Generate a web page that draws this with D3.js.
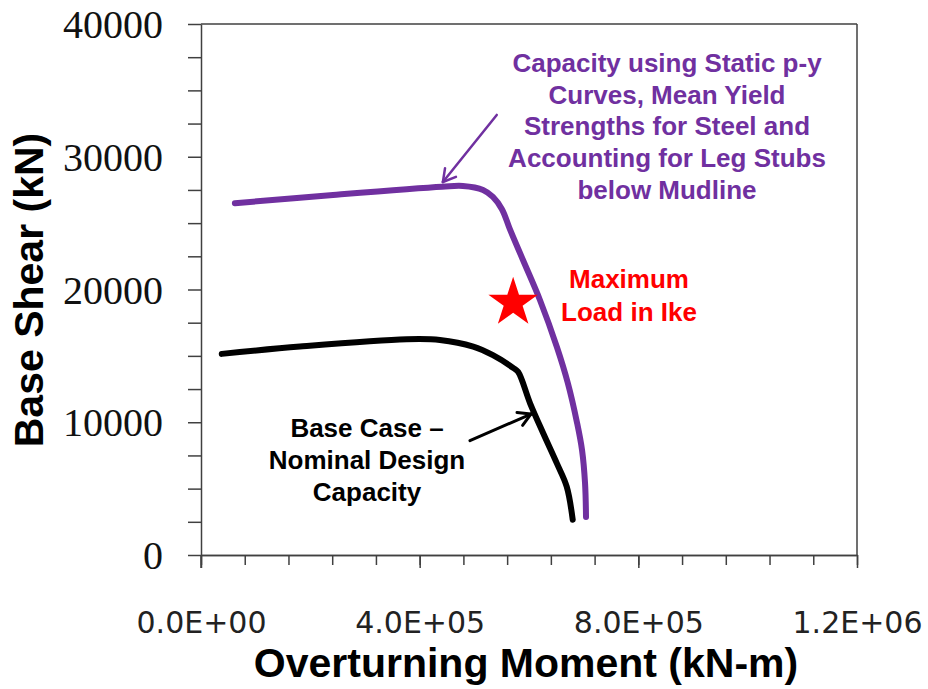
<!DOCTYPE html>
<html>
<head>
<meta charset="utf-8">
<script src="https://cdn.jsdelivr.net/npm/d3@7"></script>
<style>
  html, body { margin: 0; padding: 0; background: #fff; }
  svg { display: block; }
</style>
</head>
<body>
<svg id="chart" width="928" height="689"></svg>
<script>
// ---- Data ----
const xTickValues = [0, 400000, 800000, 1200000];
const xTickLabels = ["0.0E+00", "4.0E+05", "8.0E+05", "1.2E+06"];
const yTickValues = [0, 10000, 20000, 30000, 40000];
const yTickLabels = ["0", "10000", "20000", "30000", "40000"];

// Purple: Capacity using static p-y curves, mean yield strengths, leg stubs
const purpleX = [62000, 241500, 441000, 479000, 516000, 534000, 550500, 565000, 589000, 620000, 651000, 671000, 688000, 697000, 702500, 704300];
const purpleY = [26500, 27120, 27740, 27800, 27500, 26970, 26050, 24550, 22220, 19210, 15670, 12960, 9940, 7910, 5420, 2860];

// Black: Base case - nominal design capacity
const blackX = [38000, 181000, 376000, 437000, 498000, 534000, 571000, 580000, 602000, 626000, 651000, 669000, 680000];
const blackY = [15150, 15700, 16250, 16200, 15700, 15050, 14100, 13800, 11430, 9170, 6900, 5150, 2650];

// Red star: maximum load in Ike
const starX = [571000];
const starY = [19000];

const purpleText = ["Capacity using Static p-y", "Curves, Mean Yield", "Strengths for Steel and", "Accounting for Leg Stubs", "below Mudline"];
const redText = ["Maximum", "Load in Ike"];
const blackText = ["Base Case \u2013", "Nominal Design", "Capacity"];

// ---- Layout ----
const svg = d3.select("#chart");
const L = 201, R = 857, T = 24, B = 555;
const x = d3.scaleLinear().domain([0, 1200000]).range([L, R]);
const y = d3.scaleLinear().domain([0, 40000]).range([B, T]);
const axisColor = "#404040";
const PURPLE = "#7030A0";

// Frame (top and right borders)
svg.append("line").attr("x1", L).attr("x2", R).attr("y1", T).attr("y2", T)
  .attr("stroke", axisColor).attr("stroke-width", 1.5);
svg.append("line").attr("x1", R).attr("x2", R).attr("y1", T).attr("y2", B)
  .attr("stroke", axisColor).attr("stroke-width", 1.5);

// X axis: minor ticks every 80000, major at labels
const xAxisMinor = d3.axisBottom(x)
  .tickValues(d3.range(0, 1200001, 80000))
  .tickSize(10).tickSizeOuter(0).tickFormat("");
const gxMinor = svg.append("g").attr("transform", `translate(0,${B})`).call(xAxisMinor);
const xAxisMajor = d3.axisBottom(x)
  .tickValues(xTickValues).tickSize(13).tickSizeOuter(0)
  .tickPadding(64)
  .tickFormat((d, i) => xTickLabels[i]);
const gx = svg.append("g").attr("transform", `translate(0,${B})`).call(xAxisMajor);
[gxMinor, gx].forEach(g => {
  g.select(".domain").attr("stroke", axisColor).attr("stroke-width", 1.5);
  g.selectAll(".tick line").attr("stroke", axisColor).attr("stroke-width", 1.5);
});
gx.selectAll(".tick text")
  .attr("font-family", "DejaVu Sans, sans-serif")
  .attr("font-size", 30).attr("fill", "#222")
  .attr("dy", 0).attr("y", 78);

// Y axis: ticks every 2500
const yAxisMinor = d3.axisLeft(y)
  .tickValues(d3.range(0, 40001, 2500))
  .tickSize(13).tickSizeOuter(0).tickFormat("");
const gyMinor = svg.append("g").attr("transform", `translate(${L},0)`).call(yAxisMinor);
gyMinor.select(".domain").attr("stroke", axisColor).attr("stroke-width", 1.5);
gyMinor.selectAll(".tick line").attr("stroke", axisColor).attr("stroke-width", 1.5);
// extend y axis line down to the major x tick length
svg.append("line").attr("x1", L).attr("x2", L).attr("y1", B).attr("y2", B + 13)
  .attr("stroke", axisColor).attr("stroke-width", 1.5);

const yAxisLabels = d3.axisLeft(y)
  .tickValues(yTickValues).tickSize(0).tickPadding(38)
  .tickFormat((d, i) => yTickLabels[i]);
const gy = svg.append("g").attr("transform", `translate(${L},0)`).call(yAxisLabels);
gy.select(".domain").remove();
gy.selectAll(".tick text")
  .attr("font-family", "Liberation Serif, Times New Roman, serif")
  .attr("font-size", 40).attr("fill", "#111")
  .attr("dy", "0.34em");

// Axis titles
svg.append("text")
  .attr("x", 526).attr("y", 677)
  .attr("text-anchor", "middle")
  .attr("font-family", "Liberation Sans, Arial, sans-serif")
  .attr("font-weight", "bold").attr("font-size", 41)
  .text("Overturning Moment (kN-m)");
svg.append("text")
  .attr("transform", "translate(43,290) rotate(-90)")
  .attr("text-anchor", "middle")
  .attr("font-family", "Liberation Sans, Arial, sans-serif")
  .attr("font-weight", "bold").attr("font-size", 41)
  .text("Base Shear (kN)");

// Curves
const line = d3.line()
  .x(d => x(d[0])).y(d => y(d[1]))
  .curve(d3.curveCatmullRom.alpha(0.5));

svg.append("path")
  .datum(purpleX.map((v, i) => [v, purpleY[i]]))
  .attr("d", line).attr("fill", "none")
  .attr("stroke", PURPLE).attr("stroke-width", 6)
  .attr("stroke-linecap", "round").attr("stroke-linejoin", "round");

svg.append("path")
  .datum(blackX.map((v, i) => [v, blackY[i]]))
  .attr("d", line).attr("fill", "none")
  .attr("stroke", "#000").attr("stroke-width", 6)
  .attr("stroke-linecap", "round").attr("stroke-linejoin", "round");

// Star
svg.selectAll("path.star")
  .data(starX.map((v, i) => [v, starY[i]]))
  .join("path").attr("class", "star")
  .attr("transform", d => `translate(${x(d[0])},${y(d[1])})`)
  .attr("d", d3.symbol().type(d3.symbolStar).size(760)())
  .attr("fill", "#FF0000");

// Arrow helper (open V head)
function arrow(x1, y1, x2, y2, color, w) {
  const g = svg.append("g").attr("stroke", color).attr("stroke-width", w)
    .attr("fill", "none").attr("stroke-linecap", "round");
  g.append("line").attr("x1", x1).attr("y1", y1).attr("x2", x2).attr("y2", y2);
  const a = Math.atan2(y2 - y1, x2 - x1);
  const len = 14, spread = Math.PI / 6;
  [a + Math.PI - spread, a + Math.PI + spread].forEach(t => {
    g.append("line").attr("x1", x2).attr("y1", y2)
      .attr("x2", x2 + len * Math.cos(t)).attr("y2", y2 + len * Math.sin(t));
  });
}
arrow(x(541000), y(33150), x(442500), y(28100), PURPLE, 2.5);
arrow(x(492000), y(8610), x(603500), y(10620), "#000", 3);

// Annotation texts
function block(lines, cx, y0, dy, color) {
  const t = svg.append("text")
    .attr("text-anchor", "middle")
    .attr("font-family", "Liberation Sans, Arial, sans-serif")
    .attr("font-weight", "bold").attr("font-size", 26)
    .attr("fill", color);
  lines.forEach((s, i) => {
    t.append("tspan").attr("x", cx).attr("y", y0 + i * dy).text(s);
  });
}
block(purpleText, 667, 72, 31.7, PURPLE);
block(redText, 629, 288, 33, "#FF0000");
block(blackText, 367, 437, 32, "#000");
</script>
</body>
</html>
